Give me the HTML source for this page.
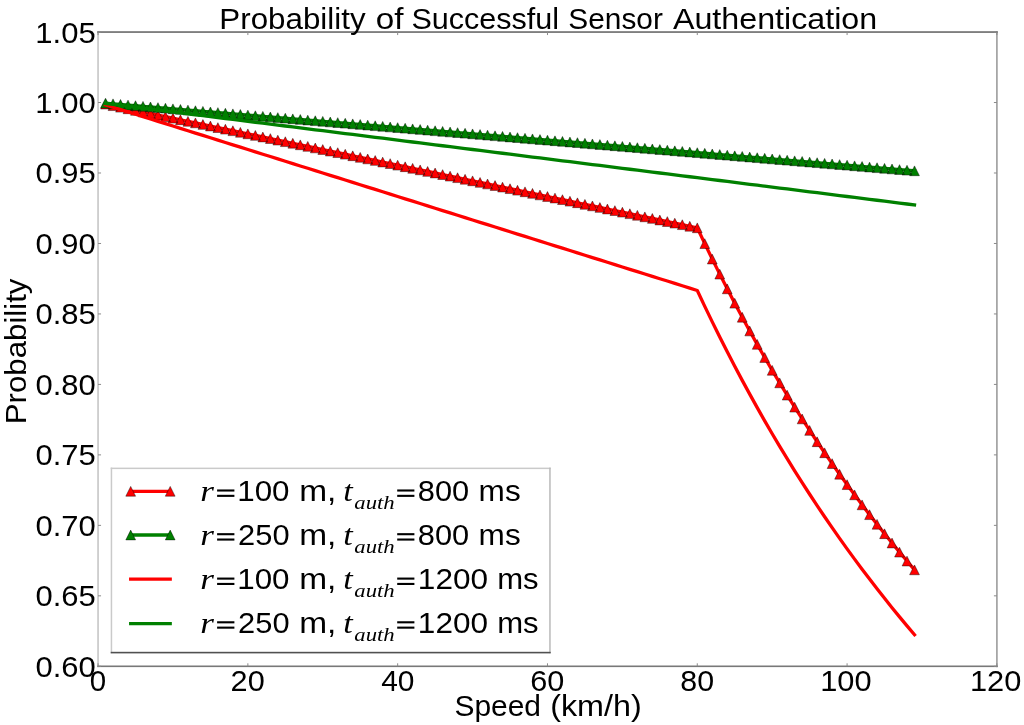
<!DOCTYPE html>
<html><head><meta charset="utf-8"><style>
html,body{margin:0;padding:0;background:#fff;width:1024px;height:725px;overflow:hidden;}
svg{display:block;will-change:transform;}

</style></head><body>
<svg width="1024" height="725" viewBox="0 0 1024 725">
<rect width="1024" height="725" fill="#fff"/>
<g id="curves">
<polyline points="105.54,104.09 113.03,105.65 120.52,107.22 128.01,108.79 135.50,110.35 142.99,111.92 150.48,113.48 157.97,115.05 165.46,116.62 172.95,118.18 180.44,119.75 187.94,121.31 195.43,122.88 202.92,124.45 210.41,126.01 217.90,127.58 225.39,129.15 232.88,130.71 240.37,132.28 247.86,133.84 255.35,135.41 262.84,136.98 270.33,138.54 277.82,140.11 285.31,141.67 292.80,143.24 300.29,144.81 307.78,146.37 315.27,147.94 322.76,149.50 330.25,151.07 337.74,152.64 345.23,154.20 352.72,155.77 360.21,157.33 367.71,158.90 375.20,160.47 382.69,162.03 390.18,163.60 397.67,165.16 405.16,166.73 412.65,168.30 420.14,169.86 427.63,171.43 435.12,172.99 442.61,174.56 450.10,176.13 457.59,177.69 465.08,179.26 472.57,180.82 480.06,182.39 487.55,183.96 495.04,185.52 502.53,187.09 510.02,188.65 517.51,190.22 525.00,191.79 532.49,193.35 539.98,194.92 547.48,196.49 554.97,198.05 562.46,199.62 569.95,201.18 577.44,202.75 584.93,204.32 592.42,205.88 599.91,207.45 607.40,209.01 614.89,210.58 622.38,212.15 629.87,213.71 637.36,215.28 644.85,216.84 652.34,218.41 659.83,219.98 667.32,221.54 674.81,223.11 682.30,224.67 689.79,226.24 697.28,227.81 704.77,243.62 712.26,259.06 719.75,274.13 727.25,288.84 734.74,303.21 742.23,317.25 749.72,330.97 757.21,344.38 764.70,357.49 772.19,370.32 779.68,382.86 787.17,395.14 794.66,407.16 802.15,418.92 809.64,430.44 817.13,441.73 824.62,452.78 832.11,463.61 839.60,474.23 847.09,484.64 854.58,494.84 862.07,504.85 869.56,514.67 877.05,524.30 884.54,533.75 892.03,543.02 899.52,552.12 907.01,561.06 914.51,569.84" fill="none" stroke="#ff0000" stroke-width="3.30" stroke-linejoin="round" stroke-linecap="square"/>
<path d="M105.54 99.19L100.64 108.99L110.44 108.99ZM113.03 100.75L108.13 110.55L117.93 110.55ZM120.52 102.32L115.62 112.12L125.42 112.12ZM128.01 103.89L123.11 113.69L132.91 113.69ZM135.50 105.45L130.60 115.25L140.40 115.25ZM142.99 107.02L138.09 116.82L147.89 116.82ZM150.48 108.58L145.58 118.38L155.38 118.38ZM157.97 110.15L153.07 119.95L162.87 119.95ZM165.46 111.72L160.56 121.52L170.36 121.52ZM172.95 113.28L168.05 123.08L177.85 123.08ZM180.44 114.85L175.54 124.65L185.34 124.65ZM187.94 116.41L183.03 126.21L192.84 126.21ZM195.43 117.98L190.53 127.78L200.33 127.78ZM202.92 119.55L198.02 129.35L207.82 129.35ZM210.41 121.11L205.51 130.91L215.31 130.91ZM217.90 122.68L213.00 132.48L222.80 132.48ZM225.39 124.25L220.49 134.05L230.29 134.05ZM232.88 125.81L227.98 135.61L237.78 135.61ZM240.37 127.38L235.47 137.18L245.27 137.18ZM247.86 128.94L242.96 138.74L252.76 138.74ZM255.35 130.51L250.45 140.31L260.25 140.31ZM262.84 132.08L257.94 141.88L267.74 141.88ZM270.33 133.64L265.43 143.44L275.23 143.44ZM277.82 135.21L272.92 145.01L282.72 145.01ZM285.31 136.77L280.41 146.57L290.21 146.57ZM292.80 138.34L287.90 148.14L297.70 148.14ZM300.29 139.91L295.39 149.71L305.19 149.71ZM307.78 141.47L302.88 151.27L312.68 151.27ZM315.27 143.04L310.37 152.84L320.17 152.84ZM322.76 144.60L317.86 154.40L327.66 154.40ZM330.25 146.17L325.35 155.97L335.15 155.97ZM337.74 147.74L332.84 157.54L342.64 157.54ZM345.23 149.30L340.33 159.10L350.13 159.10ZM352.72 150.87L347.82 160.67L357.62 160.67ZM360.21 152.43L355.31 162.23L365.11 162.23ZM367.71 154.00L362.81 163.80L372.61 163.80ZM375.20 155.57L370.30 165.37L380.10 165.37ZM382.69 157.13L377.79 166.93L387.59 166.93ZM390.18 158.70L385.28 168.50L395.08 168.50ZM397.67 160.26L392.77 170.06L402.57 170.06ZM405.16 161.83L400.26 171.63L410.06 171.63ZM412.65 163.40L407.75 173.20L417.55 173.20ZM420.14 164.96L415.24 174.76L425.04 174.76ZM427.63 166.53L422.73 176.33L432.53 176.33ZM435.12 168.09L430.22 177.89L440.02 177.89ZM442.61 169.66L437.71 179.46L447.51 179.46ZM450.10 171.23L445.20 181.03L455.00 181.03ZM457.59 172.79L452.69 182.59L462.49 182.59ZM465.08 174.36L460.18 184.16L469.98 184.16ZM472.57 175.92L467.67 185.72L477.47 185.72ZM480.06 177.49L475.16 187.29L484.96 187.29ZM487.55 179.06L482.65 188.86L492.45 188.86ZM495.04 180.62L490.14 190.42L499.94 190.42ZM502.53 182.19L497.63 191.99L507.43 191.99ZM510.02 183.75L505.12 193.55L514.92 193.55ZM517.51 185.32L512.61 195.12L522.41 195.12ZM525.00 186.89L520.10 196.69L529.90 196.69ZM532.49 188.45L527.59 198.25L537.39 198.25ZM539.98 190.02L535.08 199.82L544.88 199.82ZM547.48 191.59L542.58 201.39L552.38 201.39ZM554.97 193.15L550.07 202.95L559.87 202.95ZM562.46 194.72L557.56 204.52L567.36 204.52ZM569.95 196.28L565.05 206.08L574.85 206.08ZM577.44 197.85L572.54 207.65L582.34 207.65ZM584.93 199.42L580.03 209.22L589.83 209.22ZM592.42 200.98L587.52 210.78L597.32 210.78ZM599.91 202.55L595.01 212.35L604.81 212.35ZM607.40 204.11L602.50 213.91L612.30 213.91ZM614.89 205.68L609.99 215.48L619.79 215.48ZM622.38 207.25L617.48 217.05L627.28 217.05ZM629.87 208.81L624.97 218.61L634.77 218.61ZM637.36 210.38L632.46 220.18L642.26 220.18ZM644.85 211.94L639.95 221.74L649.75 221.74ZM652.34 213.51L647.44 223.31L657.24 223.31ZM659.83 215.08L654.93 224.88L664.73 224.88ZM667.32 216.64L662.42 226.44L672.22 226.44ZM674.81 218.21L669.91 228.01L679.71 228.01ZM682.30 219.77L677.40 229.57L687.20 229.57ZM689.79 221.34L684.89 231.14L694.69 231.14ZM697.28 222.91L692.38 232.71L702.18 232.71ZM704.77 238.72L699.87 248.52L709.67 248.52ZM712.26 254.16L707.36 263.96L717.16 263.96ZM719.75 269.23L714.85 279.03L724.65 279.03ZM727.25 283.94L722.35 293.74L732.14 293.74ZM734.74 298.31L729.84 308.11L739.64 308.11ZM742.23 312.35L737.33 322.15L747.13 322.15ZM749.72 326.07L744.82 335.87L754.62 335.87ZM757.21 339.48L752.31 349.28L762.11 349.28ZM764.70 352.59L759.80 362.39L769.60 362.39ZM772.19 365.42L767.29 375.22L777.09 375.22ZM779.68 377.96L774.78 387.76L784.58 387.76ZM787.17 390.24L782.27 400.04L792.07 400.04ZM794.66 402.26L789.76 412.06L799.56 412.06ZM802.15 414.02L797.25 423.82L807.05 423.82ZM809.64 425.54L804.74 435.34L814.54 435.34ZM817.13 436.83L812.23 446.63L822.03 446.63ZM824.62 447.88L819.72 457.68L829.52 457.68ZM832.11 458.71L827.21 468.51L837.01 468.51ZM839.60 469.33L834.70 479.13L844.50 479.13ZM847.09 479.74L842.19 489.54L851.99 489.54ZM854.58 489.94L849.68 499.74L859.48 499.74ZM862.07 499.95L857.17 509.75L866.97 509.75ZM869.56 509.77L864.66 519.57L874.46 519.57ZM877.05 519.40L872.15 529.20L881.95 529.20ZM884.54 528.85L879.64 538.65L889.44 538.65ZM892.03 538.12L887.13 547.92L896.93 547.92ZM899.52 547.22L894.62 557.02L904.42 557.02ZM907.01 556.16L902.12 565.96L911.91 565.96ZM914.51 564.94L909.61 574.74L919.41 574.74Z" fill="#ff0000" stroke="#000" stroke-opacity="0.6" stroke-width="0.7" stroke-linejoin="miter"/>
<polyline points="105.54,103.15 113.03,103.78 120.52,104.40 128.01,105.03 135.50,105.65 142.99,106.28 150.48,106.91 157.97,107.53 165.46,108.16 172.95,108.79 180.44,109.41 187.94,110.04 195.43,110.67 202.92,111.29 210.41,111.92 217.90,112.54 225.39,113.17 232.88,113.80 240.37,114.42 247.86,115.05 255.35,115.68 262.84,116.30 270.33,116.93 277.82,117.56 285.31,118.18 292.80,118.81 300.29,119.44 307.78,120.06 315.27,120.69 322.76,121.31 330.25,121.94 337.74,122.57 345.23,123.19 352.72,123.82 360.21,124.45 367.71,125.07 375.20,125.70 382.69,126.33 390.18,126.95 397.67,127.58 405.16,128.21 412.65,128.83 420.14,129.46 427.63,130.08 435.12,130.71 442.61,131.34 450.10,131.96 457.59,132.59 465.08,133.22 472.57,133.84 480.06,134.47 487.55,135.10 495.04,135.72 502.53,136.35 510.02,136.98 517.51,137.60 525.00,138.23 532.49,138.85 539.98,139.48 547.48,140.11 554.97,140.73 562.46,141.36 569.95,141.99 577.44,142.61 584.93,143.24 592.42,143.87 599.91,144.49 607.40,145.12 614.89,145.75 622.38,146.37 629.87,147.00 637.36,147.62 644.85,148.25 652.34,148.88 659.83,149.50 667.32,150.13 674.81,150.76 682.30,151.38 689.79,152.01 697.28,152.64 704.77,153.26 712.26,153.89 719.75,154.52 727.25,155.14 734.74,155.77 742.23,156.39 749.72,157.02 757.21,157.65 764.70,158.27 772.19,158.90 779.68,159.53 787.17,160.15 794.66,160.78 802.15,161.41 809.64,162.03 817.13,162.66 824.62,163.28 832.11,163.91 839.60,164.54 847.09,165.16 854.58,165.79 862.07,166.42 869.56,167.04 877.05,167.67 884.54,168.30 892.03,168.92 899.52,169.55 907.01,170.18 914.51,170.80" fill="none" stroke="#008000" stroke-width="3.30" stroke-linejoin="round" stroke-linecap="square"/>
<path d="M105.54 98.25L100.64 108.05L110.44 108.05ZM113.03 98.88L108.13 108.68L117.93 108.68ZM120.52 99.50L115.62 109.30L125.42 109.30ZM128.01 100.13L123.11 109.93L132.91 109.93ZM135.50 100.75L130.60 110.55L140.40 110.55ZM142.99 101.38L138.09 111.18L147.89 111.18ZM150.48 102.01L145.58 111.81L155.38 111.81ZM157.97 102.63L153.07 112.43L162.87 112.43ZM165.46 103.26L160.56 113.06L170.36 113.06ZM172.95 103.89L168.05 113.69L177.85 113.69ZM180.44 104.51L175.54 114.31L185.34 114.31ZM187.94 105.14L183.03 114.94L192.84 114.94ZM195.43 105.77L190.53 115.57L200.33 115.57ZM202.92 106.39L198.02 116.19L207.82 116.19ZM210.41 107.02L205.51 116.82L215.31 116.82ZM217.90 107.64L213.00 117.44L222.80 117.44ZM225.39 108.27L220.49 118.07L230.29 118.07ZM232.88 108.90L227.98 118.70L237.78 118.70ZM240.37 109.52L235.47 119.32L245.27 119.32ZM247.86 110.15L242.96 119.95L252.76 119.95ZM255.35 110.78L250.45 120.58L260.25 120.58ZM262.84 111.40L257.94 121.20L267.74 121.20ZM270.33 112.03L265.43 121.83L275.23 121.83ZM277.82 112.66L272.92 122.46L282.72 122.46ZM285.31 113.28L280.41 123.08L290.21 123.08ZM292.80 113.91L287.90 123.71L297.70 123.71ZM300.29 114.54L295.39 124.34L305.19 124.34ZM307.78 115.16L302.88 124.96L312.68 124.96ZM315.27 115.79L310.37 125.59L320.17 125.59ZM322.76 116.41L317.86 126.21L327.66 126.21ZM330.25 117.04L325.35 126.84L335.15 126.84ZM337.74 117.67L332.84 127.47L342.64 127.47ZM345.23 118.29L340.33 128.09L350.13 128.09ZM352.72 118.92L347.82 128.72L357.62 128.72ZM360.21 119.55L355.31 129.35L365.11 129.35ZM367.71 120.17L362.81 129.97L372.61 129.97ZM375.20 120.80L370.30 130.60L380.10 130.60ZM382.69 121.43L377.79 131.23L387.59 131.23ZM390.18 122.05L385.28 131.85L395.08 131.85ZM397.67 122.68L392.77 132.48L402.57 132.48ZM405.16 123.31L400.26 133.11L410.06 133.11ZM412.65 123.93L407.75 133.73L417.55 133.73ZM420.14 124.56L415.24 134.36L425.04 134.36ZM427.63 125.18L422.73 134.98L432.53 134.98ZM435.12 125.81L430.22 135.61L440.02 135.61ZM442.61 126.44L437.71 136.24L447.51 136.24ZM450.10 127.06L445.20 136.86L455.00 136.86ZM457.59 127.69L452.69 137.49L462.49 137.49ZM465.08 128.32L460.18 138.12L469.98 138.12ZM472.57 128.94L467.67 138.74L477.47 138.74ZM480.06 129.57L475.16 139.37L484.96 139.37ZM487.55 130.20L482.65 140.00L492.45 140.00ZM495.04 130.82L490.14 140.62L499.94 140.62ZM502.53 131.45L497.63 141.25L507.43 141.25ZM510.02 132.08L505.12 141.88L514.92 141.88ZM517.51 132.70L512.61 142.50L522.41 142.50ZM525.00 133.33L520.10 143.13L529.90 143.13ZM532.49 133.95L527.59 143.75L537.39 143.75ZM539.98 134.58L535.08 144.38L544.88 144.38ZM547.48 135.21L542.58 145.01L552.38 145.01ZM554.97 135.83L550.07 145.63L559.87 145.63ZM562.46 136.46L557.56 146.26L567.36 146.26ZM569.95 137.09L565.05 146.89L574.85 146.89ZM577.44 137.71L572.54 147.51L582.34 147.51ZM584.93 138.34L580.03 148.14L589.83 148.14ZM592.42 138.97L587.52 148.77L597.32 148.77ZM599.91 139.59L595.01 149.39L604.81 149.39ZM607.40 140.22L602.50 150.02L612.30 150.02ZM614.89 140.85L609.99 150.65L619.79 150.65ZM622.38 141.47L617.48 151.27L627.28 151.27ZM629.87 142.10L624.97 151.90L634.77 151.90ZM637.36 142.72L632.46 152.52L642.26 152.52ZM644.85 143.35L639.95 153.15L649.75 153.15ZM652.34 143.98L647.44 153.78L657.24 153.78ZM659.83 144.60L654.93 154.40L664.73 154.40ZM667.32 145.23L662.42 155.03L672.22 155.03ZM674.81 145.86L669.91 155.66L679.71 155.66ZM682.30 146.48L677.40 156.28L687.20 156.28ZM689.79 147.11L684.89 156.91L694.69 156.91ZM697.28 147.74L692.38 157.54L702.18 157.54ZM704.77 148.36L699.87 158.16L709.67 158.16ZM712.26 148.99L707.36 158.79L717.16 158.79ZM719.75 149.62L714.85 159.42L724.65 159.42ZM727.25 150.24L722.35 160.04L732.14 160.04ZM734.74 150.87L729.84 160.67L739.64 160.67ZM742.23 151.49L737.33 161.29L747.13 161.29ZM749.72 152.12L744.82 161.92L754.62 161.92ZM757.21 152.75L752.31 162.55L762.11 162.55ZM764.70 153.37L759.80 163.17L769.60 163.17ZM772.19 154.00L767.29 163.80L777.09 163.80ZM779.68 154.63L774.78 164.43L784.58 164.43ZM787.17 155.25L782.27 165.05L792.07 165.05ZM794.66 155.88L789.76 165.68L799.56 165.68ZM802.15 156.51L797.25 166.31L807.05 166.31ZM809.64 157.13L804.74 166.93L814.54 166.93ZM817.13 157.76L812.23 167.56L822.03 167.56ZM824.62 158.38L819.72 168.18L829.52 168.18ZM832.11 159.01L827.21 168.81L837.01 168.81ZM839.60 159.64L834.70 169.44L844.50 169.44ZM847.09 160.26L842.19 170.06L851.99 170.06ZM854.58 160.89L849.68 170.69L859.48 170.69ZM862.07 161.52L857.17 171.32L866.97 171.32ZM869.56 162.14L864.66 171.94L874.46 171.94ZM877.05 162.77L872.15 172.57L881.95 172.57ZM884.54 163.40L879.64 173.20L889.44 173.20ZM892.03 164.02L887.13 173.82L896.93 173.82ZM899.52 164.65L894.62 174.45L904.42 174.45ZM907.01 165.28L902.12 175.08L911.91 175.08ZM914.51 165.90L909.61 175.70L919.41 175.70Z" fill="#008000" stroke="#000" stroke-opacity="0.6" stroke-width="0.7" stroke-linejoin="miter"/>
<polyline points="105.54,104.87 113.03,107.22 120.52,109.57 128.01,111.92 135.50,114.27 142.99,116.62 150.48,118.97 157.97,121.31 165.46,123.66 172.95,126.01 180.44,128.36 187.94,130.71 195.43,133.06 202.92,135.41 210.41,137.76 217.90,140.11 225.39,142.46 232.88,144.81 240.37,147.15 247.86,149.50 255.35,151.85 262.84,154.20 270.33,156.55 277.82,158.90 285.31,161.25 292.80,163.60 300.29,165.95 307.78,168.30 315.27,170.65 322.76,172.99 330.25,175.34 337.74,177.69 345.23,180.04 352.72,182.39 360.21,184.74 367.71,187.09 375.20,189.44 382.69,191.79 390.18,194.14 397.67,196.49 405.16,198.83 412.65,201.18 420.14,203.53 427.63,205.88 435.12,208.23 442.61,210.58 450.10,212.93 457.59,215.28 465.08,217.63 472.57,219.98 480.06,222.32 487.55,224.67 495.04,227.02 502.53,229.37 510.02,231.72 517.51,234.07 525.00,236.42 532.49,238.77 539.98,241.12 547.48,243.47 554.97,245.82 562.46,248.16 569.95,250.51 577.44,252.86 584.93,255.21 592.42,257.56 599.91,259.91 607.40,262.26 614.89,264.61 622.38,266.96 629.87,269.31 637.36,271.66 644.85,274.00 652.34,276.35 659.83,278.70 667.32,281.05 674.81,283.40 682.30,285.75 689.79,288.10 697.28,290.45 704.77,306.34 712.26,321.86 719.75,337.00 727.25,351.79 734.74,366.24 742.23,380.36 749.72,394.16 757.21,407.65 764.70,420.84 772.19,433.74 779.68,446.37 787.17,458.72 794.66,470.82 802.15,482.66 809.64,494.26 817.13,505.62 824.62,516.76 832.11,527.67 839.60,538.36 847.09,548.85 854.58,559.13 862.07,569.21 869.56,579.11 877.05,588.82 884.54,598.34 892.03,607.70 899.52,616.88 907.01,625.90 914.51,634.75" fill="none" stroke="#ff0000" stroke-width="3.30" stroke-linejoin="round" stroke-linecap="square"/>
<polyline points="105.54,103.46 113.03,104.40 120.52,105.34 128.01,106.28 135.50,107.22 142.99,108.16 150.48,109.10 157.97,110.04 165.46,110.98 172.95,111.92 180.44,112.86 187.94,113.80 195.43,114.74 202.92,115.68 210.41,116.62 217.90,117.56 225.39,118.50 232.88,119.44 240.37,120.38 247.86,121.31 255.35,122.25 262.84,123.19 270.33,124.13 277.82,125.07 285.31,126.01 292.80,126.95 300.29,127.89 307.78,128.83 315.27,129.77 322.76,130.71 330.25,131.65 337.74,132.59 345.23,133.53 352.72,134.47 360.21,135.41 367.71,136.35 375.20,137.29 382.69,138.23 390.18,139.17 397.67,140.11 405.16,141.05 412.65,141.99 420.14,142.93 427.63,143.87 435.12,144.81 442.61,145.75 450.10,146.68 457.59,147.62 465.08,148.56 472.57,149.50 480.06,150.44 487.55,151.38 495.04,152.32 502.53,153.26 510.02,154.20 517.51,155.14 525.00,156.08 532.49,157.02 539.98,157.96 547.48,158.90 554.97,159.84 562.46,160.78 569.95,161.72 577.44,162.66 584.93,163.60 592.42,164.54 599.91,165.48 607.40,166.42 614.89,167.36 622.38,168.30 629.87,169.24 637.36,170.18 644.85,171.12 652.34,172.05 659.83,172.99 667.32,173.93 674.81,174.87 682.30,175.81 689.79,176.75 697.28,177.69 704.77,178.63 712.26,179.57 719.75,180.51 727.25,181.45 734.74,182.39 742.23,183.33 749.72,184.27 757.21,185.21 764.70,186.15 772.19,187.09 779.68,188.03 787.17,188.97 794.66,189.91 802.15,190.85 809.64,191.79 817.13,192.73 824.62,193.67 832.11,194.61 839.60,195.55 847.09,196.49 854.58,197.42 862.07,198.36 869.56,199.30 877.05,200.24 884.54,201.18 892.03,202.12 899.52,203.06 907.01,204.00 914.51,204.94" fill="none" stroke="#008000" stroke-width="3.30" stroke-linejoin="round" stroke-linecap="square"/>
</g>
<g id="spines">
<rect x="97.25" y="31.2" width="1.6" height="636" fill="#c6c6c6"/>
<rect x="996.05" y="31.2" width="1.7" height="636" fill="#a2a2a2"/>
<rect x="97.25" y="31.25" width="900.5" height="1.6" fill="#6a6a6a"/>
<rect x="97.25" y="665.5" width="900.5" height="1.6" fill="#787878"/>
</g>
<path d="M98.05 663.30v3 M98.05 32.05v3 M247.86 663.30v3 M247.86 32.05v3 M397.67 663.30v3 M397.67 32.05v3 M547.48 663.30v3 M547.48 32.05v3 M697.28 663.30v3 M697.28 32.05v3 M847.09 663.30v3 M847.09 32.05v3 M996.90 663.30v3 M996.90 32.05v3 M98.05 666.30h3 M996.90 666.30h-3 M98.05 595.83h3 M996.90 595.83h-3 M98.05 525.36h3 M996.90 525.36h-3 M98.05 454.88h3 M996.90 454.88h-3 M98.05 384.41h3 M996.90 384.41h-3 M98.05 313.94h3 M996.90 313.94h-3 M98.05 243.47h3 M996.90 243.47h-3 M98.05 172.99h3 M996.90 172.99h-3 M98.05 102.52h3 M996.90 102.52h-3 M98.05 32.05h3 M996.90 32.05h-3" stroke="#8a8a8a" stroke-width="1" fill="none"/>
<g id="legend">
<rect x="111.4" y="468.3" width="438.5" height="184.3" fill="#fff" stroke="none"/>
<rect x="110.7" y="467.6" width="1.5" height="185.6" fill="#cacaca"/>
<rect x="110.7" y="467.6" width="440" height="1.5" fill="#cacaca"/>
<rect x="549.2" y="467.6" width="1.5" height="185.6" fill="#bababa"/>
<rect x="110.7" y="651.8" width="440" height="1.6" fill="#505050"/>
<polyline points="130.70,491.30 170.20,491.30" fill="none" stroke="#ff0000" stroke-width="3.30" stroke-linejoin="round" stroke-linecap="square"/>
<path d="M130.70 486.40L125.80 496.20L135.60 496.20ZM170.20 486.40L165.30 496.20L175.10 496.20Z" fill="#ff0000" stroke="#000" stroke-opacity="0.6" stroke-width="0.7" stroke-linejoin="miter"/>
<polyline points="130.70,535.00 170.20,535.00" fill="none" stroke="#008000" stroke-width="3.30" stroke-linejoin="round" stroke-linecap="square"/>
<path d="M130.70 530.10L125.80 539.90L135.60 539.90ZM170.20 530.10L165.30 539.90L175.10 539.90Z" fill="#008000" stroke="#000" stroke-opacity="0.6" stroke-width="0.7" stroke-linejoin="miter"/>
<polyline points="130.70,579.10 170.20,579.10" fill="none" stroke="#ff0000" stroke-width="3.30" stroke-linejoin="round" stroke-linecap="square"/>
<polyline points="130.70,623.60 170.20,623.60" fill="none" stroke="#008000" stroke-width="3.30" stroke-linejoin="round" stroke-linecap="square"/>
<rect x="217.10" y="489.45" width="17.30" height="2.1"/>
<rect x="217.10" y="494.80" width="17.30" height="2.1"/>
<rect x="397.20" y="489.45" width="17.20" height="2.1"/>
<rect x="397.20" y="494.80" width="17.20" height="2.1"/>
<rect x="217.10" y="533.15" width="17.30" height="2.1"/>
<rect x="217.10" y="538.50" width="17.30" height="2.1"/>
<rect x="397.20" y="533.15" width="17.20" height="2.1"/>
<rect x="397.20" y="538.50" width="17.20" height="2.1"/>
<rect x="217.10" y="577.55" width="17.30" height="2.1"/>
<rect x="217.10" y="582.90" width="17.30" height="2.1"/>
<rect x="397.20" y="577.55" width="17.20" height="2.1"/>
<rect x="397.20" y="582.90" width="17.20" height="2.1"/>
<rect x="217.10" y="621.25" width="17.30" height="2.1"/>
<rect x="217.10" y="626.60" width="17.30" height="2.1"/>
<rect x="397.20" y="621.25" width="17.20" height="2.1"/>
<rect x="397.20" y="626.60" width="17.20" height="2.1"/>
</g>
<g id="texts" fill="#000">
<text x="219.37" y="28.80" font-family="'Liberation Sans', sans-serif" font-size="29.00" font-style="normal" textLength="146.20" lengthAdjust="spacingAndGlyphs">Probability</text>
<text x="375.67" y="28.80" font-family="'Liberation Sans', sans-serif" font-size="29.00" font-style="normal" textLength="27.76" lengthAdjust="spacingAndGlyphs">of</text>
<text x="411.48" y="28.80" font-family="'Liberation Sans', sans-serif" font-size="29.00" font-style="normal" textLength="147.60" lengthAdjust="spacingAndGlyphs">Successful</text>
<text x="568.31" y="28.80" font-family="'Liberation Sans', sans-serif" font-size="29.00" font-style="normal" textLength="94.59" lengthAdjust="spacingAndGlyphs">Sensor</text>
<text x="672.90" y="28.80" font-family="'Liberation Sans', sans-serif" font-size="29.00" font-style="normal" textLength="204.31" lengthAdjust="spacingAndGlyphs">Authentication</text>
<text x="35.37" y="42.50" font-family="'Liberation Sans', sans-serif" font-size="30.00" font-style="normal" textLength="60.41" lengthAdjust="spacingAndGlyphs">1.05</text>
<text x="35.37" y="112.97" font-family="'Liberation Sans', sans-serif" font-size="30.00" font-style="normal" textLength="60.41" lengthAdjust="spacingAndGlyphs">1.00</text>
<text x="35.51" y="183.44" font-family="'Liberation Sans', sans-serif" font-size="30.00" font-style="normal" textLength="60.27" lengthAdjust="spacingAndGlyphs">0.95</text>
<text x="35.51" y="253.92" font-family="'Liberation Sans', sans-serif" font-size="30.00" font-style="normal" textLength="60.27" lengthAdjust="spacingAndGlyphs">0.90</text>
<text x="35.51" y="324.39" font-family="'Liberation Sans', sans-serif" font-size="30.00" font-style="normal" textLength="60.27" lengthAdjust="spacingAndGlyphs">0.85</text>
<text x="35.51" y="394.86" font-family="'Liberation Sans', sans-serif" font-size="30.00" font-style="normal" textLength="60.27" lengthAdjust="spacingAndGlyphs">0.80</text>
<text x="35.51" y="465.33" font-family="'Liberation Sans', sans-serif" font-size="30.00" font-style="normal" textLength="60.27" lengthAdjust="spacingAndGlyphs">0.75</text>
<text x="35.51" y="535.81" font-family="'Liberation Sans', sans-serif" font-size="30.00" font-style="normal" textLength="60.27" lengthAdjust="spacingAndGlyphs">0.70</text>
<text x="35.51" y="606.28" font-family="'Liberation Sans', sans-serif" font-size="30.00" font-style="normal" textLength="60.27" lengthAdjust="spacingAndGlyphs">0.65</text>
<text x="35.51" y="676.75" font-family="'Liberation Sans', sans-serif" font-size="30.00" font-style="normal" textLength="60.27" lengthAdjust="spacingAndGlyphs">0.60</text>
<text x="89.82" y="690.60" font-family="'Liberation Sans', sans-serif" font-size="30.00" font-style="normal" textLength="16.39" lengthAdjust="spacingAndGlyphs">0</text>
<text x="230.63" y="690.60" font-family="'Liberation Sans', sans-serif" font-size="30.00" font-style="normal" textLength="34.08" lengthAdjust="spacingAndGlyphs">20</text>
<text x="381.22" y="690.60" font-family="'Liberation Sans', sans-serif" font-size="30.00" font-style="normal" textLength="33.27" lengthAdjust="spacingAndGlyphs">40</text>
<text x="530.24" y="690.60" font-family="'Liberation Sans', sans-serif" font-size="30.00" font-style="normal" textLength="34.08" lengthAdjust="spacingAndGlyphs">60</text>
<text x="680.32" y="690.60" font-family="'Liberation Sans', sans-serif" font-size="30.00" font-style="normal" textLength="33.81" lengthAdjust="spacingAndGlyphs">80</text>
<text x="820.18" y="690.60" font-family="'Liberation Sans', sans-serif" font-size="30.00" font-style="normal" textLength="51.40" lengthAdjust="spacingAndGlyphs">100</text>
<text x="969.99" y="690.60" font-family="'Liberation Sans', sans-serif" font-size="30.00" font-style="normal" textLength="51.40" lengthAdjust="spacingAndGlyphs">120</text>
<text x="454.41" y="715.80" font-family="'Liberation Sans', sans-serif" font-size="29.00" font-style="normal" textLength="86.61" lengthAdjust="spacingAndGlyphs">Speed</text>
<text x="550.15" y="715.80" font-family="'Liberation Sans', sans-serif" font-size="29.00" font-style="normal" textLength="91.51" lengthAdjust="spacingAndGlyphs">(km/h)</text>
<text x="26.10" y="424.22" font-family="'Liberation Sans', sans-serif" font-size="29.00" font-style="normal" textLength="145.69" lengthAdjust="spacingAndGlyphs" transform="rotate(-90 26.10 424.22)">Probability</text>
<text x="200.29" y="501.10" font-family="'Liberation Serif', serif" font-size="29.00" font-style="italic" textLength="13.67" lengthAdjust="spacingAndGlyphs">r</text>
<text x="237.27" y="501.10" font-family="'Liberation Sans', sans-serif" font-size="29.00" font-style="normal" textLength="52.26" lengthAdjust="spacingAndGlyphs">100</text>
<text x="299.19" y="501.10" font-family="'Liberation Sans', sans-serif" font-size="29.00" font-style="normal" textLength="37.15" lengthAdjust="spacingAndGlyphs">m,</text>
<text x="343.23" y="501.10" font-family="'Liberation Serif', serif" font-size="29.00" font-style="italic" textLength="9.46" lengthAdjust="spacingAndGlyphs">t</text>
<text x="354.29" y="508.80" font-family="'Liberation Serif', serif" font-size="18.50" font-style="italic" textLength="40.41" lengthAdjust="spacingAndGlyphs">auth</text>
<text x="417.87" y="501.10" font-family="'Liberation Sans', sans-serif" font-size="29.00" font-style="normal" textLength="51.34" lengthAdjust="spacingAndGlyphs">800</text>
<text x="478.62" y="501.10" font-family="'Liberation Sans', sans-serif" font-size="29.00" font-style="normal" textLength="42.08" lengthAdjust="spacingAndGlyphs">ms</text>
<text x="200.29" y="544.80" font-family="'Liberation Serif', serif" font-size="29.00" font-style="italic" textLength="13.67" lengthAdjust="spacingAndGlyphs">r</text>
<text x="238.11" y="544.80" font-family="'Liberation Sans', sans-serif" font-size="29.00" font-style="normal" textLength="51.41" lengthAdjust="spacingAndGlyphs">250</text>
<text x="299.19" y="544.80" font-family="'Liberation Sans', sans-serif" font-size="29.00" font-style="normal" textLength="37.15" lengthAdjust="spacingAndGlyphs">m,</text>
<text x="343.23" y="544.80" font-family="'Liberation Serif', serif" font-size="29.00" font-style="italic" textLength="9.46" lengthAdjust="spacingAndGlyphs">t</text>
<text x="354.29" y="552.50" font-family="'Liberation Serif', serif" font-size="18.50" font-style="italic" textLength="40.41" lengthAdjust="spacingAndGlyphs">auth</text>
<text x="417.87" y="544.80" font-family="'Liberation Sans', sans-serif" font-size="29.00" font-style="normal" textLength="51.34" lengthAdjust="spacingAndGlyphs">800</text>
<text x="478.62" y="544.80" font-family="'Liberation Sans', sans-serif" font-size="29.00" font-style="normal" textLength="42.08" lengthAdjust="spacingAndGlyphs">ms</text>
<text x="200.29" y="589.20" font-family="'Liberation Serif', serif" font-size="29.00" font-style="italic" textLength="13.67" lengthAdjust="spacingAndGlyphs">r</text>
<text x="237.27" y="589.20" font-family="'Liberation Sans', sans-serif" font-size="29.00" font-style="normal" textLength="52.26" lengthAdjust="spacingAndGlyphs">100</text>
<text x="299.19" y="589.20" font-family="'Liberation Sans', sans-serif" font-size="29.00" font-style="normal" textLength="37.15" lengthAdjust="spacingAndGlyphs">m,</text>
<text x="343.23" y="589.20" font-family="'Liberation Serif', serif" font-size="29.00" font-style="italic" textLength="9.46" lengthAdjust="spacingAndGlyphs">t</text>
<text x="354.29" y="596.90" font-family="'Liberation Serif', serif" font-size="18.50" font-style="italic" textLength="40.41" lengthAdjust="spacingAndGlyphs">auth</text>
<text x="417.85" y="589.20" font-family="'Liberation Sans', sans-serif" font-size="29.00" font-style="normal" textLength="70.15" lengthAdjust="spacingAndGlyphs">1200</text>
<text x="497.16" y="589.20" font-family="'Liberation Sans', sans-serif" font-size="29.00" font-style="normal" textLength="41.43" lengthAdjust="spacingAndGlyphs">ms</text>
<text x="200.29" y="632.90" font-family="'Liberation Serif', serif" font-size="29.00" font-style="italic" textLength="13.67" lengthAdjust="spacingAndGlyphs">r</text>
<text x="238.11" y="632.90" font-family="'Liberation Sans', sans-serif" font-size="29.00" font-style="normal" textLength="51.41" lengthAdjust="spacingAndGlyphs">250</text>
<text x="299.19" y="632.90" font-family="'Liberation Sans', sans-serif" font-size="29.00" font-style="normal" textLength="37.15" lengthAdjust="spacingAndGlyphs">m,</text>
<text x="343.23" y="632.90" font-family="'Liberation Serif', serif" font-size="29.00" font-style="italic" textLength="9.46" lengthAdjust="spacingAndGlyphs">t</text>
<text x="354.29" y="640.60" font-family="'Liberation Serif', serif" font-size="18.50" font-style="italic" textLength="40.41" lengthAdjust="spacingAndGlyphs">auth</text>
<text x="417.85" y="632.90" font-family="'Liberation Sans', sans-serif" font-size="29.00" font-style="normal" textLength="70.15" lengthAdjust="spacingAndGlyphs">1200</text>
<text x="497.16" y="632.90" font-family="'Liberation Sans', sans-serif" font-size="29.00" font-style="normal" textLength="41.43" lengthAdjust="spacingAndGlyphs">ms</text>
</g>
</svg>
</body></html>
